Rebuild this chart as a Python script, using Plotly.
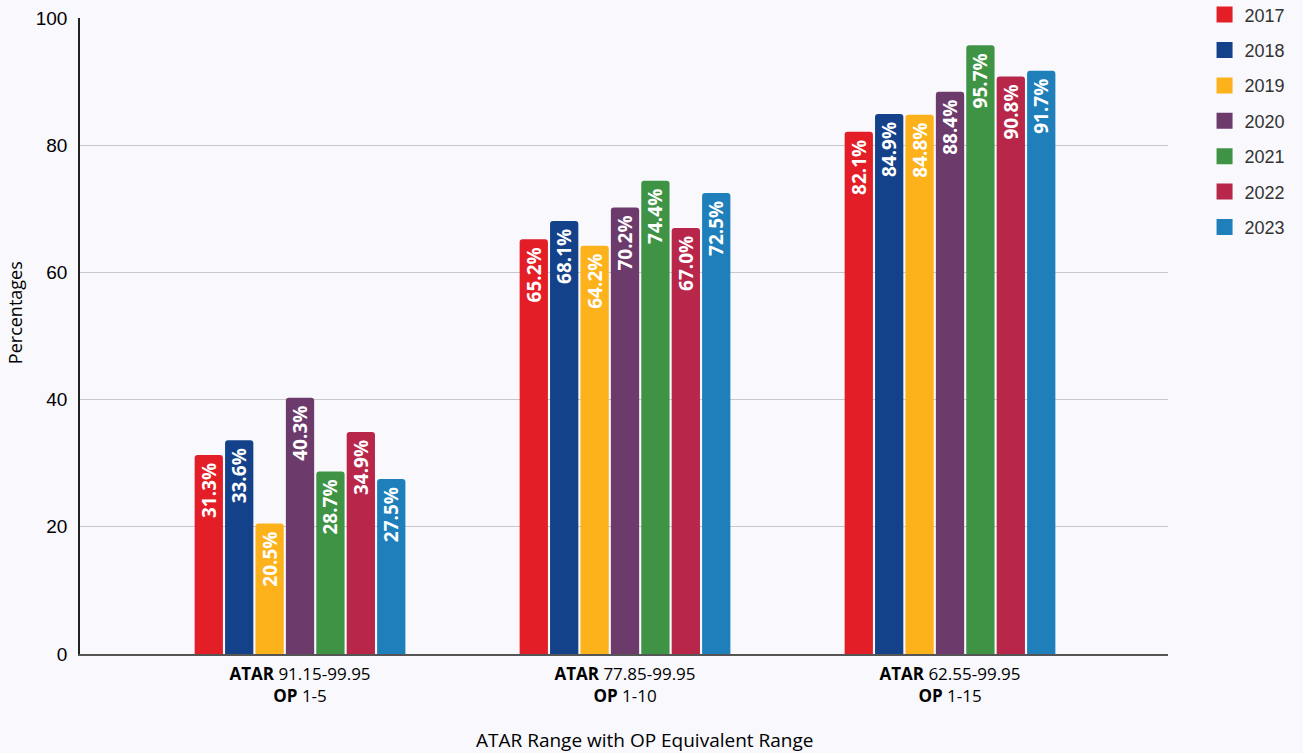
import plotly.graph_objects as go

categories = [
    "<b>ATAR</b> 91.15-99.95<br><b>OP</b> 1-5",
    "<b>ATAR</b> 77.85-99.95<br><b>OP</b> 1-10",
    "<b>ATAR</b> 62.55-99.95<br><b>OP</b> 1-15",
]
years = ["2017", "2018", "2019", "2020", "2021", "2022", "2023"]
values = {
    "2017": [31.3, 65.2, 82.1],
    "2018": [33.6, 68.1, 84.9],
    "2019": [20.5, 64.2, 84.8],
    "2020": [40.3, 70.2, 88.4],
    "2021": [28.7, 74.4, 95.7],
    "2022": [34.9, 67.0, 90.8],
    "2023": [27.5, 72.5, 91.7],
}
colors = ["#e31e26", "#14428a", "#fdb11a", "#6d3a6c", "#3f9345", "#b8264a", "#1f7fbb"]

fig = go.Figure()
for y, c in zip(years, colors):
    fig.add_trace(go.Bar(
        name=y, x=categories, y=values[y], showlegend=False,
        marker=dict(color=c, cornerradius=3, line=dict(width=0)),
        text=[f"{v:.1f}%\u00a0" for v in values[y]],
        textposition="inside", insidetextanchor="end", textangle=-90,
        textfont=dict(family="Open Sans", size=19, color="white", weight="bold"),
        hoverinfo="x+y+name",
    ))
for y, c in zip(years, colors):
    fig.add_trace(go.Scatter(
        name=y, x=[None], y=[None], mode="markers", legendgroup=y,
        marker=dict(symbol="square", size=16, color=c),
    ))

fig.update_layout(
    width=1303, height=753,
    paper_bgcolor="#f8f8fd", plot_bgcolor="#f8f8fd",
    barmode="group", bargap=0.345, bargroupgap=0.07,
    margin=dict(l=80, r=135, t=18, b=99, autoexpand=False),
    font=dict(family="Open Sans", color="#000"),
    uniformtext=dict(minsize=19, mode="show"),
    legend=dict(x=1.0336, y=1.034, xanchor="left", yanchor="top",
                font=dict(family="Liberation Sans", size=18, color="#333"),
                tracegroupgap=9, itemwidth=30, bgcolor="rgba(0,0,0,0)"),
    xaxis=dict(range=[-0.677, 2.6708], showline=True, linecolor="#555", linewidth=1.5,
               tickfont=dict(family="Open Sans", size=17, color="#000"),
               ticklabelstandoff=4),
    yaxis=dict(range=[0, 100], dtick=20, showline=True, linecolor="#222", linewidth=1.5,
               gridcolor="#c8c8cc", gridwidth=1, zeroline=False,
               tickfont=dict(family="Liberation Sans", size=19, color="#000"),
               ticklabelstandoff=7),
    annotations=[
        dict(text="ATAR Range with OP Equivalent Range", xref="paper", yref="paper",
             x=0.5184, y=-0.1352, xanchor="center", yanchor="middle", showarrow=False,
             font=dict(family="Open Sans", size=19, color="#000")),
        dict(text="Percentages", xref="paper", yref="paper", textangle=-90,
             x=-0.0597, y=0.536, xanchor="center", yanchor="middle", showarrow=False,
             font=dict(family="Open Sans", size=18, color="#000")),
    ],
)
fig.write_html("out.html", config={"displayModeBar": False},
               post_script="document.body.style.margin='0';document.body.style.overflow='hidden';")
